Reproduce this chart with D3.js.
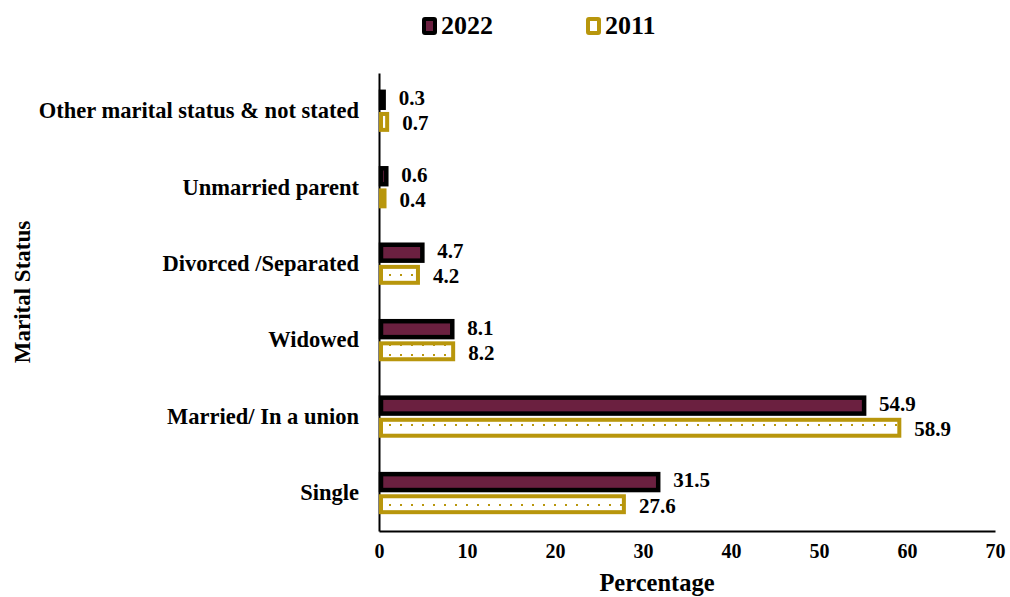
<!DOCTYPE html>
<html>
<head>
<meta charset="utf-8">
<script src="https://cdn.jsdelivr.net/npm/d3@7"></script>
<style>
  body { margin: 0; background: #fff; }
  text { font-family: "Liberation Serif", "Times New Roman", serif; font-weight: bold; fill: #000; }
</style>
</head>
<body>
<div id="chart"></div>
<script>
// categories top -> bottom, values in percent
const categories = ["Other marital status & not stated", "Unmarried parent", "Divorced /Separated", "Widowed", "Married/ In a union", "Single"]
const values2022 = [0.3, 0.6, 4.7, 8.1, 54.9, 31.5]
const values2011 = [0.7, 0.4, 4.2, 8.2, 58.9, 27.6]
const xTicks = [0, 10, 20, 30, 40, 50, 60, 70]
const seriesNames = ["2022", "2011"]

const width = 1010, height = 597
const maroon = "#6B2040", gold = "#B8960C"

const svg = d3.select("#chart").append("svg")
  .attr("width", width)
  .attr("height", height)

// dotted fill for the 2011 bars
const defs = svg.append("defs")
const pat = defs.append("pattern")
  .attr("id", "dots")
  .attr("patternUnits", "userSpaceOnUse")
  .attr("width", 11).attr("height", 10)
pat.append("rect").attr("width", 11).attr("height", 10).attr("fill", "#fff")
pat.append("rect").attr("x", 4).attr("y", 4).attr("width", 2).attr("height", 2).attr("fill", gold)

const xScale = d3.scaleLinear().domain([0, 70]).range([379, 995])
const yScale = d3.scaleBand().domain(categories).range([73, 531]).paddingInner(0.45).paddingOuter(0.22)
const inner = d3.scaleBand().domain(seriesNames).range([0, yScale.bandwidth()]).paddingInner(0.1)

// axes
const gX = svg.append("g")
  .attr("transform", `translate(0,531)`)
  .call(d3.axisBottom(xScale).tickValues(xTicks).tickSize(0).tickPadding(13))
gX.select(".domain").attr("stroke", "#000").attr("stroke-width", 2)
gX.selectAll("text").attr("font-size", 20).style("font-family", "Liberation Serif").style("font-weight", "bold")

const gY = svg.append("g")
  .attr("transform", `translate(379,0)`)
  .call(d3.axisLeft(yScale).tickSize(0).tickPadding(20))
gY.select(".domain").attr("stroke", "#000").attr("stroke-width", 2)
gY.selectAll("text").attr("font-size", 22.5).style("font-family", "Liberation Serif").style("font-weight", "bold")

const rows = categories.map((c, i) => ({ cat: c, v22: values2022[i], v11: values2011[i] }))

// 2022 bars
svg.selectAll(".bar.y2022")
  .data(rows)
  .enter()
  .append("rect")
  .attr("class", "bar y2022")
  .attr("x", xScale(0) + 2)
  .attr("y", d => yScale(d.cat) + inner("2022") + 2)
  .attr("width", d => Math.max(xScale(d.v22) - xScale(0), 1))
  .attr("height", inner.bandwidth() - 4)
  .attr("fill", maroon)
  .attr("stroke", "#000")
  .attr("stroke-width", 4.5)

// 2011 bars
svg.selectAll(".bar.y2011")
  .data(rows)
  .enter()
  .append("rect")
  .attr("class", "bar y2011")
  .attr("x", xScale(0) + 2)
  .attr("y", d => yScale(d.cat) + inner("2011") + 2)
  .attr("width", d => Math.max(xScale(d.v11) - xScale(0), 1))
  .attr("height", inner.bandwidth() - 4)
  .attr("fill", "url(#dots)")
  .attr("stroke", gold)
  .attr("stroke-width", 4)

// value labels
svg.selectAll(".lbl.y2022")
  .data(rows)
  .enter()
  .append("text")
  .attr("class", "lbl y2022")
  .attr("x", d => xScale(d.v22) + 17)
  .attr("y", d => yScale(d.cat) + inner("2022") + inner.bandwidth() / 2 - 2)
  .attr("dy", "0.35em")
  .attr("font-size", 21)
  .text(d => d.v22)

svg.selectAll(".lbl.y2011")
  .data(rows)
  .enter()
  .append("text")
  .attr("class", "lbl y2011")
  .attr("x", d => xScale(d.v11) + 17)
  .attr("y", d => yScale(d.cat) + inner("2011") + inner.bandwidth() / 2 + 1)
  .attr("dy", "0.35em")
  .attr("font-size", 21)
  .text(d => d.v11)

// axis titles
svg.append("text")
  .attr("x", 657)
  .attr("y", 591)
  .attr("text-anchor", "middle")
  .attr("font-size", 24.5)
  .text("Percentage")

svg.append("text")
  .attr("transform", "translate(30,292) rotate(-90)")
  .attr("text-anchor", "middle")
  .attr("font-size", 23)
  .text("Marital Status")

// legend
const legend = svg.append("g")
const legendX = [422, 586]
seriesNames.forEach((s, i) => {
  const g = legend.append("g").attr("transform", `translate(${legendX[i]},17)`)
  g.append("rect")
    .attr("x", 2).attr("y", 2).attr("width", 11).attr("height", 14)
    .attr("rx", 1)
    .attr("fill", i === 0 ? maroon : "#fff")
    .attr("stroke", i === 0 ? "#000" : gold)
    .attr("stroke-width", 4)
  g.append("text")
    .attr("x", 19).attr("y", 17)
    .attr("font-size", 26)
    .text(s)
})
</script>
</body>
</html>
